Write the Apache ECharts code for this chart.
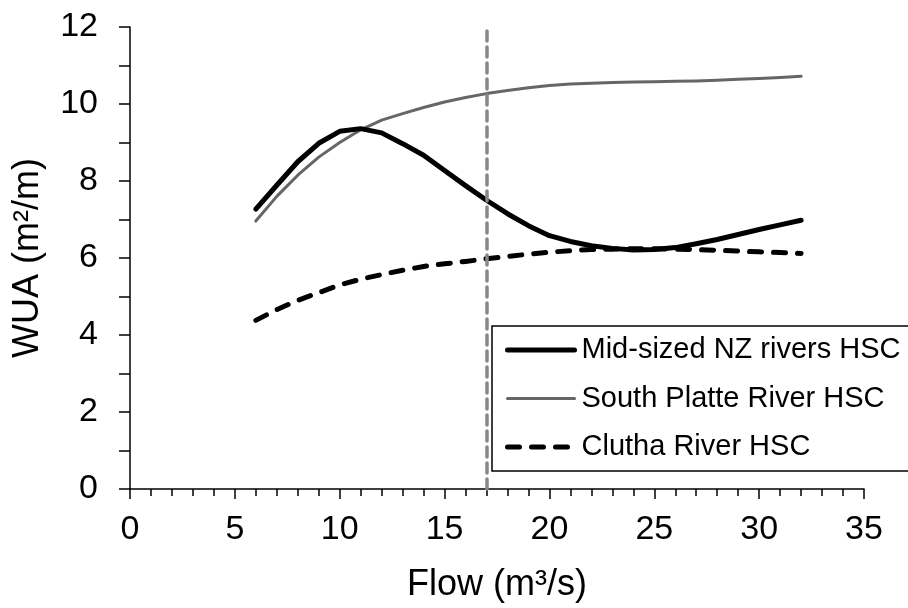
<!DOCTYPE html>
<html>
<head>
<meta charset="utf-8">
<script src="https://cdn.jsdelivr.net/npm/echarts@6/dist/echarts.min.js"></script>
<style>
  html, body { margin: 0; padding: 0; background: #fff; }
  #chart { width: 908px; height: 608px; }
</style>
</head>
<body>
<div id="chart"></div>
<script>
// Flow values (m3/s) at which WUA was computed
const flows = [6, 7, 8, 9, 10, 11, 12, 13, 14, 15, 16, 17, 18, 19, 20,
               21, 22, 23, 24, 25, 26, 27, 28, 29, 30, 31, 32];

// WUA (m2/m) for each habitat suitability curve
const midSizedNZ = [7.27, 7.89, 8.50, 8.98, 9.29, 9.36, 9.25, 8.97, 8.67, 8.27,
                    7.88, 7.50, 7.15, 6.84, 6.58, 6.43, 6.32, 6.25, 6.21, 6.22,
                    6.27, 6.37, 6.48, 6.61, 6.74, 6.86, 6.98];
const southPlatte = [6.96, 7.60, 8.15, 8.62, 9.00, 9.33, 9.58, 9.75, 9.91, 10.05,
                     10.17, 10.27, 10.35, 10.42, 10.48, 10.52, 10.54, 10.56, 10.57, 10.58,
                     10.59, 10.60, 10.62, 10.64, 10.66, 10.69, 10.72];
const clutha = [4.38, 4.66, 4.90, 5.10, 5.30, 5.45, 5.57, 5.68, 5.78, 5.85,
                5.91, 5.98, 6.04, 6.10, 6.15, 6.19, 6.22, 6.23, 6.24, 6.24,
                6.23, 6.22, 6.20, 6.18, 6.16, 6.14, 6.12];

const seriesNames = ['Mid-sized NZ rivers HSC', 'South Platte River HSC', 'Clutha River HSC'];
const referenceFlow = 17;

const pairs = ys => flows.map((x, i) => [x, ys[i]]);
const FONT = 'Liberation Sans, Arial, sans-serif';

const styles = [
  { color: '#000000', width: 5, type: 'solid' },
  { color: '#666666', width: 3, type: 'solid' },
  { color: '#000000', width: 5, type: [12, 12] }
];

const chart = echarts.init(document.getElementById('chart'));
chart.setOption({
  backgroundColor: '#ffffff',
  animation: false,
  textStyle: { fontFamily: FONT, color: '#000' },
  grid: { left: 130, right: 44, top: 27, bottom: 118, containLabel: false },
  xAxis: {
    type: 'value', min: 0, max: 35, interval: 5,
    name: 'Flow (m³/s)', nameLocation: 'middle', nameGap: 78,
    nameTextStyle: { fontSize: 36, color: '#000', fontFamily: FONT },
    axisLine: { lineStyle: { color: '#000', width: 1.5 } },
    axisTick: { show: true, length: 10, inside: false, lineStyle: { color: '#000', width: 1.5 } },
    minorTick: { show: true, splitNumber: 5, length: 7, lineStyle: { color: '#000', width: 1.5 } },
    axisLabel: { fontSize: 34, color: '#000', margin: 24, fontFamily: FONT },
    splitLine: { show: false }
  },
  yAxis: {
    type: 'value', min: 0, max: 12, interval: 1,
    name: 'WUA (m²/m)', nameLocation: 'middle', nameGap: 84, nameRotate: 90,
    nameTextStyle: { fontSize: 36, color: '#000', fontFamily: FONT },
    axisLine: { show: true, lineStyle: { color: '#000', width: 1.5 } },
    axisTick: { show: true, length: 11, inside: false, lineStyle: { color: '#000', width: 1.5 } },
    axisLabel: {
      fontSize: 34, color: '#000', margin: 32, fontFamily: FONT,
      formatter: v => (v % 2 === 0 ? String(v) : '')
    },
    splitLine: { show: false }
  },
  legend: {
    data: seriesNames.map((name, i) => ({
      name,
      itemStyle: { opacity: 0 },
      lineStyle: { color: styles[i].color, width: styles[i].width, type: styles[i].type, cap: 'round' }
    })),
    orient: 'vertical',
    left: 492, top: 326,
    padding: [8, 30, 8, 13],
    itemGap: 16.5,
    itemWidth: 67,
    itemHeight: 32,
    borderColor: '#000', borderWidth: 1.5,
    backgroundColor: '#fff',
    textStyle: { fontSize: 29, color: '#000', fontFamily: FONT, lineHeight: 32, padding: [0, 0, 0, 2] }
  },
  series: [
    {
      name: seriesNames[0], type: 'line', data: pairs(midSizedNZ),
      symbol: 'none', smooth: false, z: 3,
      lineStyle: { color: styles[0].color, width: styles[0].width, join: 'round', cap: 'round' },
      itemStyle: { color: styles[0].color }
    },
    {
      name: seriesNames[1], type: 'line', data: pairs(southPlatte),
      symbol: 'none', smooth: false, z: 2,
      lineStyle: { color: styles[1].color, width: styles[1].width, join: 'round', cap: 'round' },
      itemStyle: { color: styles[1].color }
    },
    {
      name: seriesNames[2], type: 'line', data: pairs(clutha),
      symbol: 'none', smooth: false, z: 3,
      lineStyle: { color: styles[2].color, width: styles[2].width, type: styles[2].type, cap: 'round', join: 'round' },
      itemStyle: { color: styles[2].color }
    },
    {
      // reference flow marker
      name: 'reference', type: 'line', data: [], z: 5,
      markLine: {
        silent: true, symbol: ['none', 'none'],
        label: { show: false },
        lineStyle: { color: '#888888', width: 3.5, type: [10, 6], cap: 'round' },
        data: [[{ coord: [referenceFlow, 0] }, { coord: [referenceFlow, 12] }]]
      }
    }
  ]
});
</script>
</body>
</html>
